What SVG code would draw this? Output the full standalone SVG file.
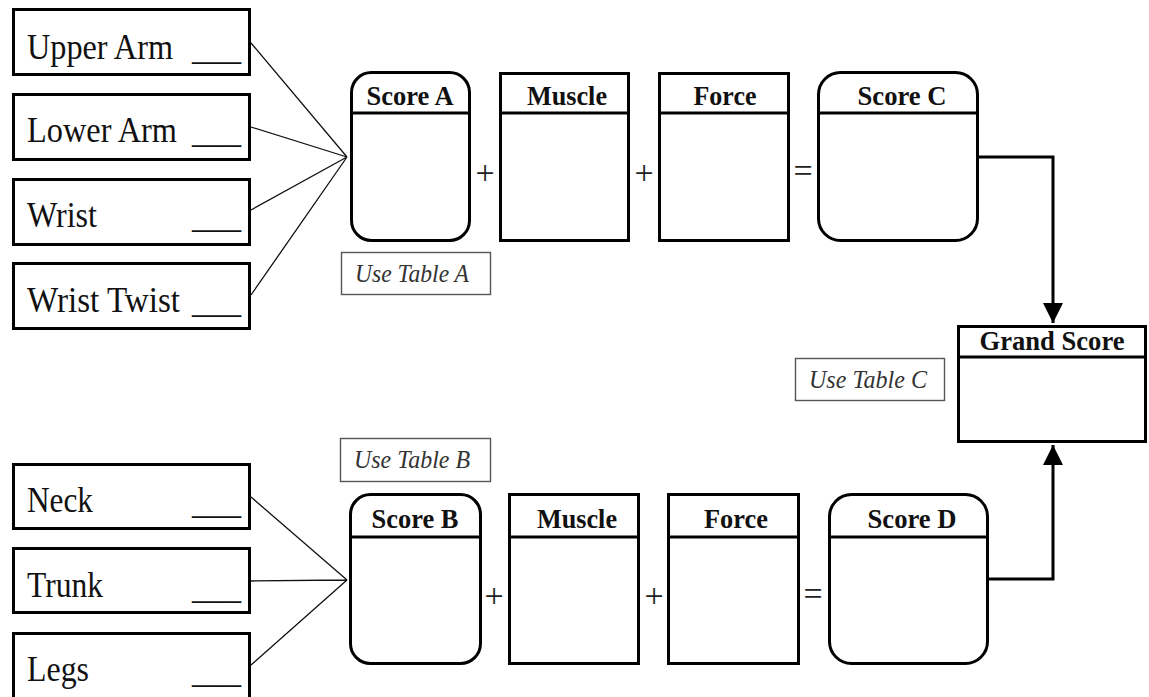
<svg xmlns="http://www.w3.org/2000/svg" width="1149" height="697" viewBox="0 0 1149 697">
<style>
.box{fill:#fff;stroke:#000;stroke-width:3}
.hdr{stroke:#000;stroke-width:3}
.lbl{font-family:"Liberation Serif","Times New Roman",serif;font-size:35px;fill:#111}
.ttl{font-family:"Liberation Serif","Times New Roman",serif;font-size:28px;font-weight:bold;fill:#111;text-anchor:middle}
.note{fill:#fff;stroke:#555;stroke-width:1.4}
.ntx{font-family:"Liberation Serif","Times New Roman",serif;font-size:25px;font-style:italic;fill:#333}
.op{font-family:"Liberation Serif","Times New Roman",serif;font-size:34px;fill:#222;text-anchor:middle}
.thin{stroke:#111;stroke-width:1.3;fill:none}
.conn{stroke:#000;stroke-width:3;fill:none}
</style>
<defs>
<marker id="ah" viewBox="0 0 10 10" refX="10" refY="5" markerWidth="20" markerHeight="20" markerUnits="userSpaceOnUse" orient="auto">
<path d="M0,0 L10,5 L0,10 z" fill="#000"/>
</marker>
</defs>

<g id="connectors">
<path class="thin" d="M251,43 L347,157 M251,127 L347,157 M251,210 L347,157 M251,295 L347,157"/>
<path class="thin" d="M251,497 L347,580 M251,581 L347,580 M251,665 L347,580"/>
<path class="conn" d="M979,157 H1053 V323" marker-end="url(#ah)"/>
<path class="conn" d="M989,579 H1053 V445" marker-end="url(#ah)"/>
</g>

<g id="upper-arm"><rect class="box" x="13.5" y="9.5" width="236" height="65"/><text class="lbl" x="27" y="59" textLength="146" lengthAdjust="spacingAndGlyphs">Upper Arm</text><text class="lbl" x="192" y="59" textLength="49" lengthAdjust="spacingAndGlyphs">___</text></g>
<g id="lower-arm"><rect class="box" x="13.5" y="94.5" width="236" height="65"/><text class="lbl" x="27" y="142" textLength="150" lengthAdjust="spacingAndGlyphs">Lower Arm</text><text class="lbl" x="192" y="142" textLength="49" lengthAdjust="spacingAndGlyphs">___</text></g>
<g id="wrist"><rect class="box" x="13.5" y="179.5" width="236" height="65"/><text class="lbl" x="27" y="227" textLength="70" lengthAdjust="spacingAndGlyphs">Wrist</text><text class="lbl" x="192" y="227" textLength="49" lengthAdjust="spacingAndGlyphs">___</text></g>
<g id="wrist-twist"><rect class="box" x="13.5" y="263.5" width="236" height="65"/><text class="lbl" x="27" y="312" textLength="153" lengthAdjust="spacingAndGlyphs">Wrist Twist</text><text class="lbl" x="192" y="312" textLength="49" lengthAdjust="spacingAndGlyphs">___</text></g>

<g id="neck"><rect class="box" x="13.5" y="464.5" width="236" height="64"/><text class="lbl" x="27" y="512" textLength="66" lengthAdjust="spacingAndGlyphs">Neck</text><text class="lbl" x="192" y="513" textLength="49" lengthAdjust="spacingAndGlyphs">___</text></g>
<g id="trunk"><rect class="box" x="13.5" y="548.5" width="236" height="64"/><text class="lbl" x="27" y="597" textLength="76" lengthAdjust="spacingAndGlyphs">Trunk</text><text class="lbl" x="192" y="598" textLength="49" lengthAdjust="spacingAndGlyphs">___</text></g>
<g id="legs"><rect class="box" x="13.5" y="633.5" width="236" height="80"/><text class="lbl" x="27" y="681" textLength="62" lengthAdjust="spacingAndGlyphs">Legs</text><text class="lbl" x="192" y="682" textLength="49" lengthAdjust="spacingAndGlyphs">___</text></g>

<g id="score-a"><rect class="box" x="351.5" y="72.5" width="118" height="168" rx="20"/><line class="hdr" x1="351.5" y1="113" x2="469.5" y2="113"/><text class="ttl" x="410" y="105" textLength="87" lengthAdjust="spacingAndGlyphs">Score A</text></g>
<g id="muscle-a"><rect class="box" x="500.5" y="73.5" width="128" height="167"/><line class="hdr" x1="500.5" y1="113" x2="628.5" y2="113"/><text class="ttl" x="567" y="105" textLength="80" lengthAdjust="spacingAndGlyphs">Muscle</text></g>
<g id="force-a"><rect class="box" x="659.5" y="73.5" width="129" height="167"/><line class="hdr" x1="659.5" y1="113" x2="788.5" y2="113"/><text class="ttl" x="725" y="105" textLength="63" lengthAdjust="spacingAndGlyphs">Force</text></g>
<g id="score-c"><rect class="box" x="818.5" y="72.5" width="159" height="168" rx="22"/><line class="hdr" x1="818.5" y1="113" x2="977.5" y2="113"/><text class="ttl" x="902" y="105" textLength="89" lengthAdjust="spacingAndGlyphs">Score C</text></g>
<g id="ops-top"><text class="op" x="485" y="184">+</text><text class="op" x="644" y="184">+</text><text class="op" x="803" y="182">=</text></g>
<g id="note-a"><rect class="note" x="341.5" y="252.5" width="149" height="42"/><text class="ntx" x="355" y="282" textLength="114" lengthAdjust="spacingAndGlyphs">Use Table A</text></g>

<g id="grand-score"><rect class="box" x="958.5" y="326.5" width="187" height="115"/><line class="hdr" x1="958.5" y1="357" x2="1145.5" y2="357"/><text class="ttl" x="1052" y="350" textLength="145" lengthAdjust="spacingAndGlyphs">Grand Score</text></g>
<g id="note-c"><rect class="note" x="795.5" y="358.5" width="149" height="42"/><text class="ntx" x="809" y="388" textLength="118" lengthAdjust="spacingAndGlyphs">Use Table C</text></g>

<g id="note-b"><rect class="note" x="340.5" y="438.5" width="150" height="43"/><text class="ntx" x="354" y="468" textLength="116" lengthAdjust="spacingAndGlyphs">Use Table B</text></g>
<g id="score-b"><rect class="box" x="350.5" y="494.5" width="130" height="169" rx="20"/><line class="hdr" x1="350.5" y1="537" x2="480.5" y2="537"/><text class="ttl" x="415" y="528" textLength="87" lengthAdjust="spacingAndGlyphs">Score B</text></g>
<g id="muscle-b"><rect class="box" x="509.5" y="494.5" width="129" height="169"/><line class="hdr" x1="509.5" y1="537" x2="638.5" y2="537"/><text class="ttl" x="577" y="528" textLength="80" lengthAdjust="spacingAndGlyphs">Muscle</text></g>
<g id="force-b"><rect class="box" x="668.5" y="494.5" width="130" height="169"/><line class="hdr" x1="668.5" y1="537" x2="798.5" y2="537"/><text class="ttl" x="736" y="528" textLength="64" lengthAdjust="spacingAndGlyphs">Force</text></g>
<g id="score-d"><rect class="box" x="829.5" y="494.5" width="158" height="169" rx="22"/><line class="hdr" x1="829.5" y1="537" x2="987.5" y2="537"/><text class="ttl" x="912" y="528" textLength="89" lengthAdjust="spacingAndGlyphs">Score D</text></g>
<g id="ops-bottom"><text class="op" x="494" y="607">+</text><text class="op" x="654" y="607">+</text><text class="op" x="813" y="605">=</text></g>
</svg>
